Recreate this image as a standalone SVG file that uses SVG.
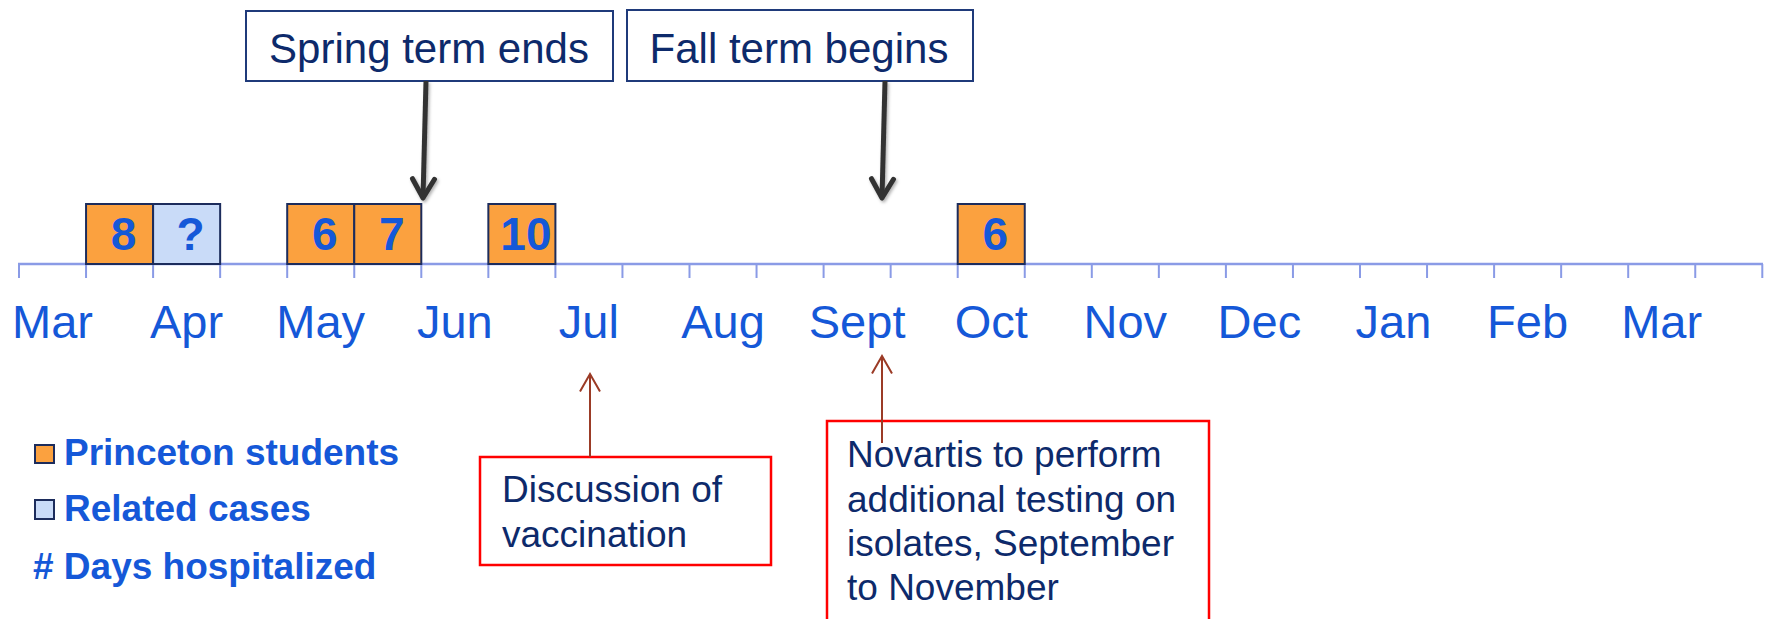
<svg xmlns="http://www.w3.org/2000/svg" width="1769" height="619" viewBox="0 0 1769 619">
  <style>
    .month { font-family: "Liberation Sans", Arial, sans-serif; font-size: 47px; fill: #1558D8; text-anchor: middle; }
    .num { font-family: "Liberation Sans", Arial, sans-serif; font-size: 46px; font-weight: bold; fill: #1558D8; text-anchor: middle; }
    .case { stroke: #1C2C5C; stroke-width: 2; }
    .stud { fill: #FBA13F; }
    .rel { fill: #C9DBF8; }
    .title { fill: #FFFFFF; stroke: #1F3A7A; stroke-width: 2; }
    .titletxt { font-family: "Liberation Sans", Arial, sans-serif; font-size: 42px; fill: #0D2A6B; text-anchor: middle; }
    .note { fill: #FFFFFF; stroke: #FF0000; stroke-width: 2.5; }
    .notetxt { font-family: "Liberation Sans", Arial, sans-serif; font-size: 37px; fill: #0D2A6B; }
    .legtxt { font-family: "Liberation Sans", Arial, sans-serif; font-size: 37px; font-weight: bold; fill: #1558D8; }
    .axis { stroke: #8A9BE6; stroke-width: 2.5; fill: none; }
    .ticks { stroke: #8A9BE6; stroke-width: 2; fill: none; }
    .blk { stroke: #333333; stroke-width: 5; fill: none; }
    .brn { stroke: #9B3B26; stroke-width: 2; fill: none; }
  </style>
  <defs>
    <filter id="shadow" filterUnits="userSpaceOnUse" x="0" y="0" width="1769" height="619">
      <feDropShadow dx="1.5" dy="2" stdDeviation="1.5" flood-color="#000000" flood-opacity="0.3"/>
    </filter>
    <marker id="headBlk" markerUnits="userSpaceOnUse" viewBox="-24 -15 28 30" refX="0" refY="0" markerWidth="28" markerHeight="30" orient="auto">
      <path d="M -19 -11 L 0 0 L -19 11" fill="none" stroke="#333333" stroke-width="5" stroke-linecap="round" stroke-linejoin="round"/>
    </marker>
    <marker id="headBrn" markerUnits="userSpaceOnUse" viewBox="-20 -12 22 24" refX="0" refY="0" markerWidth="22" markerHeight="24" orient="auto">
      <path d="M -17.5 -10 L 0 0 L -17.5 10" fill="none" stroke="#9B3B26" stroke-width="2"/>
    </marker>
  </defs>

  <rect width="1769" height="619" fill="#FFFFFF"/>

  <g id="timeline-axis">
    <line class="axis" x1="18" y1="264" x2="1763" y2="264"/>
    <path class="ticks" d="M19 264V278 M86.05 264V278 M153.1 264V278 M220.15 264V278 M287.2 264V278 M354.25 264V278 M421.3 264V278 M488.35 264V278 M555.4 264V278 M622.45 264V278 M689.5 264V278 M756.55 264V278 M823.6 264V278 M890.65 264V278 M957.7 264V278 M1024.75 264V278 M1091.8 264V278 M1158.85 264V278 M1225.9 264V278 M1292.95 264V278 M1360 264V278 M1427.05 264V278 M1494.1 264V278 M1561.15 264V278 M1628.2 264V278 M1695.25 264V278 M1762.3 264V278"/>
  </g>

  <g id="month-labels">
    <text class="month" x="52.5" y="338">Mar</text>
    <text class="month" x="186.6" y="338">Apr</text>
    <text class="month" x="320.7" y="338">May</text>
    <text class="month" x="454.8" y="338">Jun</text>
    <text class="month" x="588.9" y="338">Jul</text>
    <text class="month" x="723" y="338">Aug</text>
    <text class="month" x="857.1" y="338">Sept</text>
    <text class="month" x="991.2" y="338">Oct</text>
    <text class="month" x="1125.3" y="338">Nov</text>
    <text class="month" x="1259.4" y="338">Dec</text>
    <text class="month" x="1393.5" y="338">Jan</text>
    <text class="month" x="1527.6" y="338">Feb</text>
    <text class="month" x="1661.7" y="338">Mar</text>
  </g>

  <g id="case-mar-8">
    <rect class="case stud" x="86.05" y="204" width="67.05" height="60"/>
    <text class="num" x="123.6" y="250">8</text>
  </g>
  <g id="case-apr-q">
    <rect class="case rel" x="153.1" y="204" width="67.05" height="60"/>
    <text class="num" x="190.6" y="250">?</text>
  </g>
  <g id="case-may-6">
    <rect class="case stud" x="287.2" y="204" width="67.05" height="60"/>
    <text class="num" x="324.7" y="250">6</text>
  </g>
  <g id="case-may-7">
    <rect class="case stud" x="354.25" y="204" width="67.05" height="60"/>
    <text class="num" x="391.8" y="250">7</text>
  </g>
  <g id="case-jun-10">
    <rect class="case stud" x="488.35" y="204" width="67.05" height="60"/>
    <text class="num" x="525.9" y="250">10</text>
  </g>
  <g id="case-oct-6">
    <rect class="case stud" x="957.7" y="204" width="67.05" height="60"/>
    <text class="num" x="995.2" y="250">6</text>
  </g>

  <g id="spring-term-ends">
    <rect class="title" x="246" y="11" width="367" height="70"/>
    <text class="titletxt" x="429" y="63">Spring term ends</text>
  </g>
  <g id="fall-term-begins">
    <rect class="title" x="627" y="10" width="346" height="71"/>
    <text class="titletxt" x="799" y="63">Fall term begins</text>
  </g>

  <g id="discussion-of-vaccination">
    <rect class="note" x="480" y="457" width="291" height="108"/>
    <text class="notetxt" x="502" y="502">Discussion of</text>
    <text class="notetxt" x="502" y="547">vaccination</text>
  </g>

  <g id="novartis-testing">
    <rect class="note" x="827" y="421" width="382" height="230"/>
    <text class="notetxt" x="847" y="467">Novartis to perform</text>
    <text class="notetxt" x="847" y="512">additional testing on</text>
    <text class="notetxt" x="847" y="556">isolates, September</text>
    <text class="notetxt" x="847" y="600">to November</text>
  </g>

  <g id="legend">
    <g id="legend-princeton">
      <rect class="case stud" x="35" y="445" width="19" height="18"/>
      <text class="legtxt" x="64" y="465">Princeton students</text>
    </g>
    <g id="legend-related">
      <rect class="case rel" x="35" y="500" width="19" height="19"/>
      <text class="legtxt" x="64" y="521">Related cases</text>
    </g>
    <g id="legend-days">
      <text class="legtxt" x="33" y="579"># Days hospitalized</text>
    </g>
  </g>

  <g id="connectors">
    <g filter="url(#shadow)">
      <line class="blk" x1="426" y1="81" x2="423" y2="198" marker-end="url(#headBlk)"/>
      <line class="blk" x1="885" y1="81" x2="882" y2="198" marker-end="url(#headBlk)"/>
    </g>
    <line class="brn" x1="590" y1="457" x2="590" y2="374" marker-end="url(#headBrn)"/>
    <line class="brn" x1="882" y1="443" x2="882" y2="356" marker-end="url(#headBrn)"/>
  </g>
</svg>
